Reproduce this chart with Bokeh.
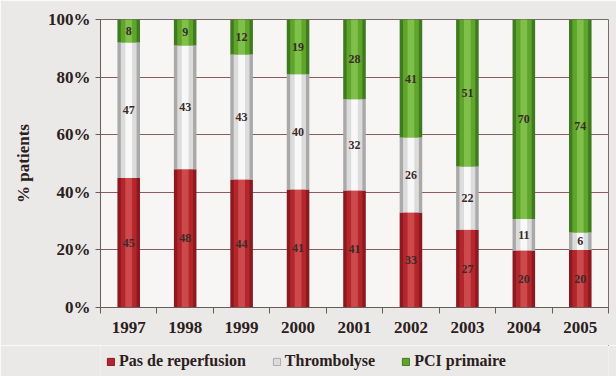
import numpy as np
from bokeh.plotting import figure
from bokeh.layouts import column
from bokeh.models import (ColumnDataSource, FixedTicker, LabelSet, Legend, LegendItem,
                          CustomJSTickFormatter, PrintfTickFormatter, Range1d)
from bokeh.embed import file_html
from bokeh.resources import INLINE

years = ["1997", "1998", "1999", "2000", "2001", "2002", "2003", "2004", "2005"]
pas_de_reperfusion = [45, 48, 44, 41, 41, 33, 27, 20, 20]
thrombolyse = [47, 43, 43, 40, 32, 26, 22, 11, 6]
pci_primaire = [8, 9, 12, 19, 28, 41, 51, 70, 74]
series_names = ["Pas de reperfusion", "Thrombolyse", "PCI primaire"]
y_ticks = [0, 20, 40, 60, 80, 100]
y_title = "% patients"

SERIF = "Liberation Serif"
BG = "#ebe9e7"
edge_cols = ["#8a1a1f", "#a9a9a9", "#3f7a1e"]
base_cols = ["#b5262c", "#dcdcdc", "#5fa52c"]
high_cols = ["#cc4a4c", "#f8f8f8", "#7fc04a"]

xs = np.arange(len(years)) + 0.5
vals = np.array([pas_de_reperfusion, thrombolyse, pci_primaire], dtype=float)
shares = vals / vals.sum(axis=0) * 100.0   # 100 % stacked bars
tops = np.cumsum(shares, axis=0)
bottoms = tops - shares

p = figure(width=616, height=345, output_backend="svg", toolbar_location=None,
           x_range=Range1d(0, len(years)), y_range=Range1d(0, 100),
           min_border_left=100, min_border_right=8, min_border_top=19, min_border_bottom=38)
p.border_fill_color = BG
p.background_fill_color = "#f8f6f5"
p.outline_line_color = "#7a6a6a"
p.outline_line_width = 1

# layered bars to imitate the cylinder shading
for widths, cols in ((0.40, edge_cols), (0.28, base_cols), (0.12, high_cols)):
    for i in range(3):
        p.vbar(x=xs, bottom=bottoms[i], top=tops[i], width=widths,
               fill_color=cols[i], line_color=None)

# data labels
lab_x, lab_y, lab_t = [], [], []
for i in range(3):
    for j in range(len(years)):
        lab_x.append(xs[j])
        lab_y.append((bottoms[i][j] + tops[i][j]) / 2)
        lab_t.append(str(int(vals[i][j])))
lsrc = ColumnDataSource(dict(x=lab_x, y=lab_y, t=lab_t))
p.add_layout(LabelSet(x="x", y="y", text="t", source=lsrc, text_align="center",
                      text_baseline="middle", text_font=SERIF, text_font_style="bold",
                      text_font_size="12px", text_color="#3a2a2a"))

# axes
p.xaxis.ticker = FixedTicker(ticks=list(xs), minor_ticks=list(range(len(years) + 1)))
p.xaxis.formatter = CustomJSTickFormatter(args=dict(years=years),
                                          code="return years[Math.floor(tick)];")
p.xaxis.major_tick_out = 0
p.xaxis.major_tick_in = 0
p.xaxis.minor_tick_out = 6
p.xaxis.minor_tick_in = 0
p.xaxis.minor_tick_line_color = "#6a5a5a"
p.xaxis.axis_line_color = "#6a5a5a"
p.xaxis.major_label_text_font = SERIF
p.xaxis.major_label_text_font_style = "bold"
p.xaxis.major_label_text_font_size = "17px"
p.xaxis.major_label_text_color = "#2a2020"
p.xaxis.major_label_standoff = 8

p.yaxis.ticker = FixedTicker(ticks=y_ticks, minor_ticks=[])
p.yaxis.formatter = PrintfTickFormatter(format="%d%%")
p.yaxis.major_tick_out = 5
p.yaxis.major_tick_in = 0
p.yaxis.major_tick_line_color = "#6a5a5a"
p.yaxis.axis_line_color = "#6a5a5a"
p.yaxis.major_label_text_font = SERIF
p.yaxis.major_label_text_font_style = "bold"
p.yaxis.major_label_text_font_size = "17px"
p.yaxis.major_label_text_color = "#2a2020"
p.yaxis.axis_label = y_title
p.yaxis.axis_label_text_font = SERIF
p.yaxis.axis_label_text_font_style = "bold"
p.yaxis.axis_label_text_font_size = "17px"
p.yaxis.axis_label_text_color = "#2a2020"
p.yaxis.axis_label_standoff = 12

p.xgrid.grid_line_color = None
p.ygrid.ticker = FixedTicker(ticks=y_ticks)
p.ygrid.grid_line_color = "#8c5c5c"
p.ygrid.grid_line_width = 1

# legend in a strip below the chart
lg = figure(width=616, height=31, output_backend="svg", toolbar_location=None,
            x_range=Range1d(0, 1), y_range=Range1d(0, 1),
            min_border=0, min_border_left=0, min_border_right=0,
            min_border_top=0, min_border_bottom=0)
lg.axis.visible = False
lg.grid.visible = False
lg.outline_line_color = None
lg.border_fill_color = BG
lg.background_fill_color = BG
items = []
for i in range(3):
    # proxy glyphs placed outside the visible range; they only feed the legend
    r = lg.vbar(x=[5], bottom=[5], top=[6], width=0.01, fill_color=base_cols[i],
                line_color=edge_cols[i])
    items.append(LegendItem(label=series_names[i], renderers=[r]))
legend = Legend(items=items, orientation="horizontal", location=(6, 6),
                label_text_font=SERIF, label_text_font_style="bold",
                label_text_font_size="16px", label_text_color="#2a2020",
                glyph_width=9, glyph_height=9, spacing=26, padding=0, margin=0,
                border_line_color=None, background_fill_alpha=0, label_standoff=4)
lg.add_layout(legend)

open("out.html", "w").write(file_html(column(p, lg, spacing=0), INLINE))
